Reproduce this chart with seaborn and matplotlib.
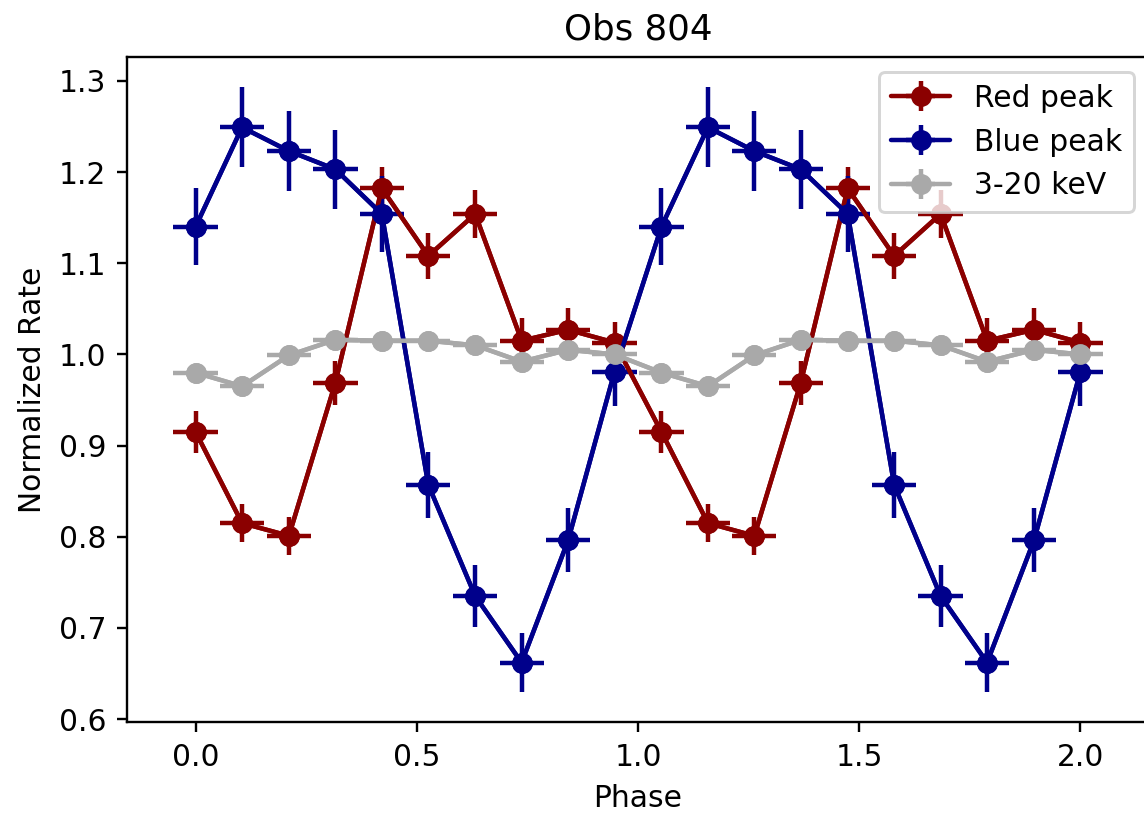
import numpy as np
import matplotlib
matplotlib.use("Agg")
import matplotlib.pyplot as plt
import seaborn as sns

phase = [0.000, 0.105, 0.211, 0.316, 0.421, 0.526, 0.632, 0.737, 0.842, 0.947,
         1.053, 1.158, 1.263, 1.368, 1.474, 1.579, 1.684, 1.789, 1.895, 2.000]

red_rate = [0.915, 0.815, 0.801, 0.969, 1.182, 1.108, 1.154, 1.015, 1.027, 1.013,
            0.915, 0.815, 0.801, 0.969, 1.182, 1.108, 1.154, 1.015, 1.027, 1.013]
red_err = [0.023, 0.021, 0.021, 0.024, 0.024, 0.025, 0.026, 0.025, 0.024, 0.022,
           0.023, 0.021, 0.021, 0.024, 0.024, 0.025, 0.026, 0.025, 0.024, 0.022]

blue_rate = [1.140, 1.249, 1.223, 1.203, 1.154, 0.857, 0.735, 0.662, 0.796, 0.981,
             1.140, 1.249, 1.223, 1.203, 1.154, 0.857, 0.735, 0.662, 0.796, 0.981]
blue_err = [0.042, 0.044, 0.044, 0.043, 0.042, 0.036, 0.034, 0.032, 0.035, 0.038,
            0.042, 0.044, 0.044, 0.043, 0.042, 0.036, 0.034, 0.032, 0.035, 0.038]

gray_rate = [0.980, 0.965, 0.999, 1.016, 1.015, 1.015, 1.010, 0.992, 1.005, 1.000,
             0.980, 0.965, 0.999, 1.016, 1.015, 1.015, 1.010, 0.992, 1.005, 1.000]
gray_err = [0.004] * 20

phase_halfwidth = [0.05] * 20

series = [
    ("Red peak", red_rate, red_err, "darkred"),
    ("Blue peak", blue_rate, blue_err, "darkblue"),
    ("3-20 keV", gray_rate, gray_err, "darkgray"),
]

sns.set_style("ticks", {"axes.edgecolor": "black", "xtick.color": "black",
                        "ytick.color": "black", "text.color": "black",
                        "axes.labelcolor": "black"})
plt.rcParams["font.family"] = ["DejaVu Sans"]

DPI = 214
fig = plt.figure(figsize=(1144 / DPI, 822 / DPI), dpi=DPI)
ax = fig.add_axes([127 / 1144, 1 - 722 / 822, (1149 - 127) / 1144, (722 - 57) / 822])

handles = []
for label, rate, err, color in series:
    sns.lineplot(x=phase, y=rate, ax=ax, color=color, marker="o", markersize=6,
                 markeredgecolor=color, markeredgewidth=1, linewidth=1.5,
                 legend=False, sort=False)
    eb = ax.errorbar(phase, rate, xerr=phase_halfwidth, yerr=err, fmt="-o",
                     color=color, linewidth=1.5, markersize=6)
    handles.append(eb)

ax.legend(handles, [s[0] for s in series], loc="upper right")
ax.set_xlabel("Phase")
ax.set_ylabel("Normalized Rate")
ax.set_title("Obs 804")
ax.set_xticks([0.0, 0.5, 1.0, 1.5, 2.0])
ax.set_yticks([0.6, 0.7, 0.8, 0.9, 1.0, 1.1, 1.2, 1.3])
ax.margins(x=0.05, y=0.05)

fig.savefig("out.png", dpi=DPI)
